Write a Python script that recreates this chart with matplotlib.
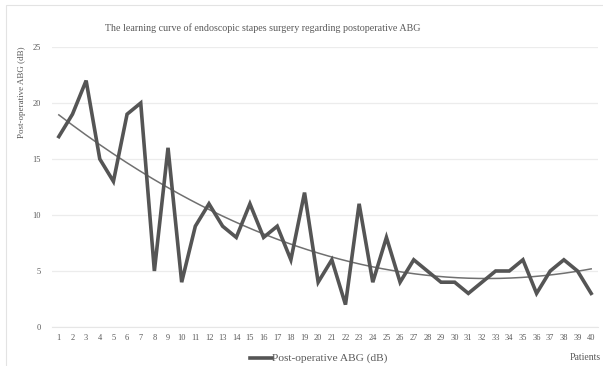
import numpy as np
import matplotlib.pyplot as plt
from matplotlib.patches import Rectangle
from matplotlib.lines import Line2D

# post-operative ABG per patient (dB)
patients = list(range(1, 41))
abg = [17, 19, 22, 15, 13, 19, 20, 5, 16, 4,
       9, 11, 9, 8, 11, 8, 9, 6, 12, 4,
       6, 2, 11, 4, 8, 4, 6, 5, 4, 4,
       3, 4, 5, 5, 6, 3, 5, 6, 5, 3]
y_ticks = [0, 5, 10, 15, 20, 25]

serif = 'Liberation Serif'
text_col = '#595959'
W, H = 603, 366

fig = plt.figure(figsize=(W / 100, H / 100), dpi=100)
# light frame of the chart area (right/bottom edges are cut off in the original)
fig.patches.append(Rectangle((6 / W, -0.05), 1.05, 1.05 - 5 / H,
                             transform=fig.transFigure, fill=False,
                             edgecolor='#e3e3e3', linewidth=0.8))

ax = fig.add_axes([52 / W, 1 - 327 / H, 546 / W, 280 / H])

x = np.array(patients)
y = np.array(abg)
ax.plot(x, y, color='#555555', linewidth=2.6, solid_joinstyle='miter', zorder=3)

# 2nd order polynomial trend line
coef = np.polyfit(x, y, 2)
xs = np.linspace(1, 40, 200)
ax.plot(xs, np.polyval(coef, xs), color='#707070', linewidth=1.1, zorder=2)

ax.set_xlim(0.5, 40.5)
ax.set_ylim(0, 25)
ax.set_yticks(y_ticks)
ax.set_xticks(patients)
ax.grid(axis='y', color='#ececec', linewidth=0.9)
ax.set_axisbelow(True)
for s in ax.spines.values():
    s.set_visible(False)
ax.spines['bottom'].set_visible(True)
ax.spines['bottom'].set_color('#e6e6e6')
ax.tick_params(length=0, labelsize=6, labelcolor=text_col)
ax.tick_params(axis='x', pad=5)
ax.tick_params(axis='y', pad=8)
for lab in ax.get_xticklabels() + ax.get_yticklabels():
    lab.set_family(serif)

fig.text(263 / W, 1 - 28 / H,
         'The learning curve of endoscopic stapes surgery regarding postoperative ABG',
         ha='center', va='center', fontsize=7.2, family=serif, color=text_col)
fig.text(22 / W, 1 - 92 / H, 'Post-operative ABG (dB)', rotation=90,
         ha='center', va='center', fontsize=6.5, family=serif, color=text_col)

fig.lines.append(Line2D([250 / W, 272 / W], [1 - 358 / H] * 2,
                        transform=fig.transFigure, color='#555555', linewidth=2.6))
fig.text(272 / W, 1 - 358 / H, 'Post-operative ABG (dB)',
         ha='left', va='center', fontsize=8.2, family=serif, color=text_col)
fig.text(601 / W, 1 - 358 / H, 'Patients',
         ha='right', va='center', fontsize=7, family=serif, color=text_col)

fig.savefig('out.png', dpi=100)
